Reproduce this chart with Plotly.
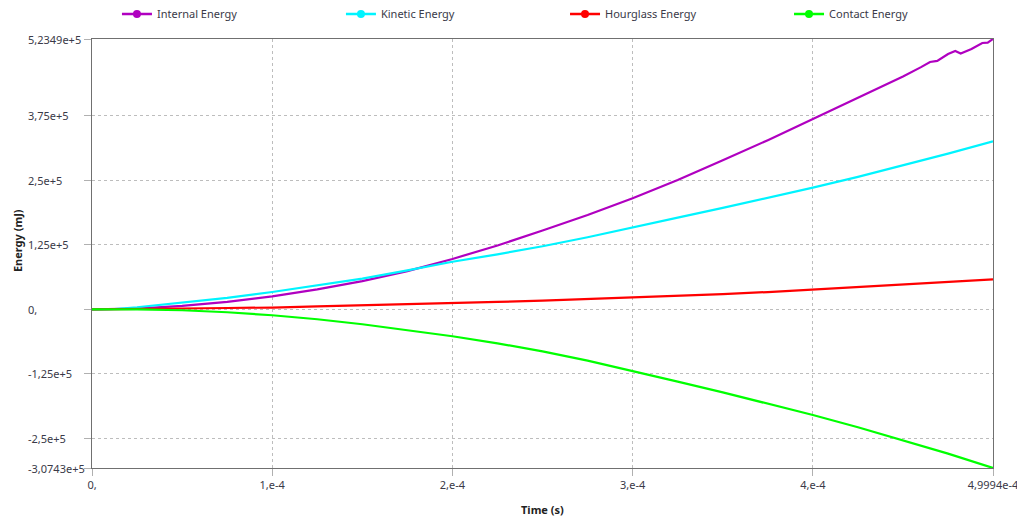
import plotly.graph_objects as go

# ---- data (time in seconds, energy in mJ) ----
time = [0, 0.125e-4, 0.25e-4, 0.5e-4, 0.75e-4, 1.0e-4, 1.25e-4, 1.5e-4, 1.75e-4,
        2.0e-4, 2.25e-4, 2.5e-4, 2.75e-4, 3.0e-4, 3.25e-4, 3.5e-4, 3.75e-4,
        4.0e-4, 4.25e-4, 4.5e-4, 4.75e-4, 4.9994e-4]

time_internal = [0, 0.125e-4, 0.25e-4, 0.5e-4, 0.75e-4, 1.0e-4, 1.25e-4, 1.5e-4, 1.75e-4,
                 2.0e-4, 2.25e-4, 2.5e-4, 2.75e-4, 3.0e-4, 3.25e-4, 3.5e-4, 3.75e-4,
                 4.0e-4, 4.25e-4, 4.5e-4, 4.6e-4, 4.65e-4, 4.69e-4, 4.75e-4, 4.79e-4,
                 4.82e-4, 4.88e-4, 4.94e-4, 4.97e-4, 4.9994e-4]
internal_energy = [0, 300, 1200, 6500, 14500, 25100, 38500, 54500, 74000,
                   97500, 123500, 152500, 182500, 215000, 250500, 288500, 327500,
                   368500, 409000, 451000, 469000, 479000, 481000, 494500, 500300,
                   495500, 504000, 515800, 516500, 523490]

kinetic_energy = [0, 500, 3900, 12500, 22200, 33500, 46000, 59500, 75500,
                  92000, 106500, 122000, 139500, 158000, 177500, 196500, 215500,
                  235500, 256500, 278500, 301500, 325100]

hourglass_energy = [0, 100, 500, 1500, 2500, 3300, 5800, 7700, 9700,
                    12400, 14200, 16800, 19700, 22600, 26100, 29400, 33400,
                    38600, 43700, 48700, 53300, 58000]

contact_energy = [0, 0, -300, -1900, -5800, -11600, -19300, -29000, -40000,
                  -52200, -66000, -81500, -99500, -119200, -140000, -161000, -182500,
                  -204800, -228500, -253500, -279500, -307430]

series_names = ["Internal Energy", "Kinetic Energy", "Hourglass Energy", "Contact Energy"]
series_colors = ["#B000C0", "#00F4FF", "#FF0000", "#00FF00"]

x_tickvals = [0, 1e-4, 2e-4, 3e-4, 4e-4, 4.9994e-4]
x_ticktext = ["0,", "1,e-4", "2,e-4", "3,e-4", "4,e-4", "4,9994e-4"]
y_tickvals = [523490, 375000, 250000, 125000, 0, -125000, -250000, -307430]
y_ticktext = ["5,2349e+5", "3,75e+5", "2,5e+5", "1,25e+5", "0,", "-1,25e+5", "-2,5e+5", "-3,0743e+5"]

FONT = "Noto Sans"
TXT = "#3a3a48"

fig = go.Figure()
xs = [time_internal, time, time, time]
ys = [internal_energy, kinetic_energy, hourglass_energy, contact_energy]
for name, col, xv, yv in zip(series_names, series_colors, xs, ys):
    fig.add_trace(go.Scatter(x=xv, y=yv, mode="lines", name=name, showlegend=False,
                             line=dict(color=col, width=2.2)))
# legend entries (line with dot), split over two legends to keep one row
legend_ids = ["legend", "legend", "legend2", "legend2"]
for name, col, lg in zip(series_names, series_colors, legend_ids):
    fig.add_trace(go.Scatter(x=[None], y=[None], mode="lines+markers", name=name,
                             legend=lg, line=dict(color=col, width=2.5),
                             marker=dict(color=col, size=8)))

grid = dict(showgrid=True, gridcolor="#bdbdbd", griddash="3px,3px", gridwidth=1,
            zeroline=False, showline=True, mirror=True, linecolor="#707070", linewidth=1,
            ticks="outside", tickcolor="#b0b0b0", ticklen=7, automargin=False)

fig.update_xaxes(range=[0, 4.9994e-4], tickmode="array", tickvals=x_tickvals,
                 ticktext=x_ticktext, ticklabeloverflow="allow",
                 tickfont=dict(family=FONT, size=11, color=TXT), **grid)
fig.update_yaxes(range=[-307430, 523490], tickmode="array", tickvals=y_tickvals,
                 showticklabels=False, **grid)

annotations = []
for v, t in zip(y_tickvals, y_ticktext):
    annotations.append(dict(x=-0.0733, xref="paper", y=v, yref="y", text=t, showarrow=False,
                            xanchor="left", yanchor="middle",
                            font=dict(family=FONT, size=11, color=TXT)))
annotations.append(dict(x=-0.0832, xref="paper", y=0.529, yref="paper", text="<b>Energy (mJ)</b>",
                        textangle=-90, showarrow=False, xanchor="center", yanchor="middle",
                        font=dict(family=FONT, size=11, color="#222222")))
annotations.append(dict(x=0.5, xref="paper", y=-0.0956, yref="paper", text="<b>Time (s)</b>",
                        showarrow=False, xanchor="center", yanchor="middle",
                        font=dict(family=FONT, size=11, color="#222222")))

leg_common = dict(orientation="h", y=1.058, xanchor="left", yanchor="middle",
                  entrywidth=179, entrywidthmode="pixels",
                  font=dict(family=FONT, size=11, color=TXT), bgcolor="rgba(0,0,0,0)")

fig.update_layout(
    width=1017, height=519,
    margin=dict(l=92, r=24, t=39, b=51, autoexpand=False),
    plot_bgcolor="white", paper_bgcolor="white",
    annotations=annotations,
    legend=dict(x=0.0277, **leg_common),
    legend2=dict(x=0.5250, **leg_common),
)

fig.write_html("out.html", config={"displayModeBar": False},
               post_script="document.body.style.margin='0';")
